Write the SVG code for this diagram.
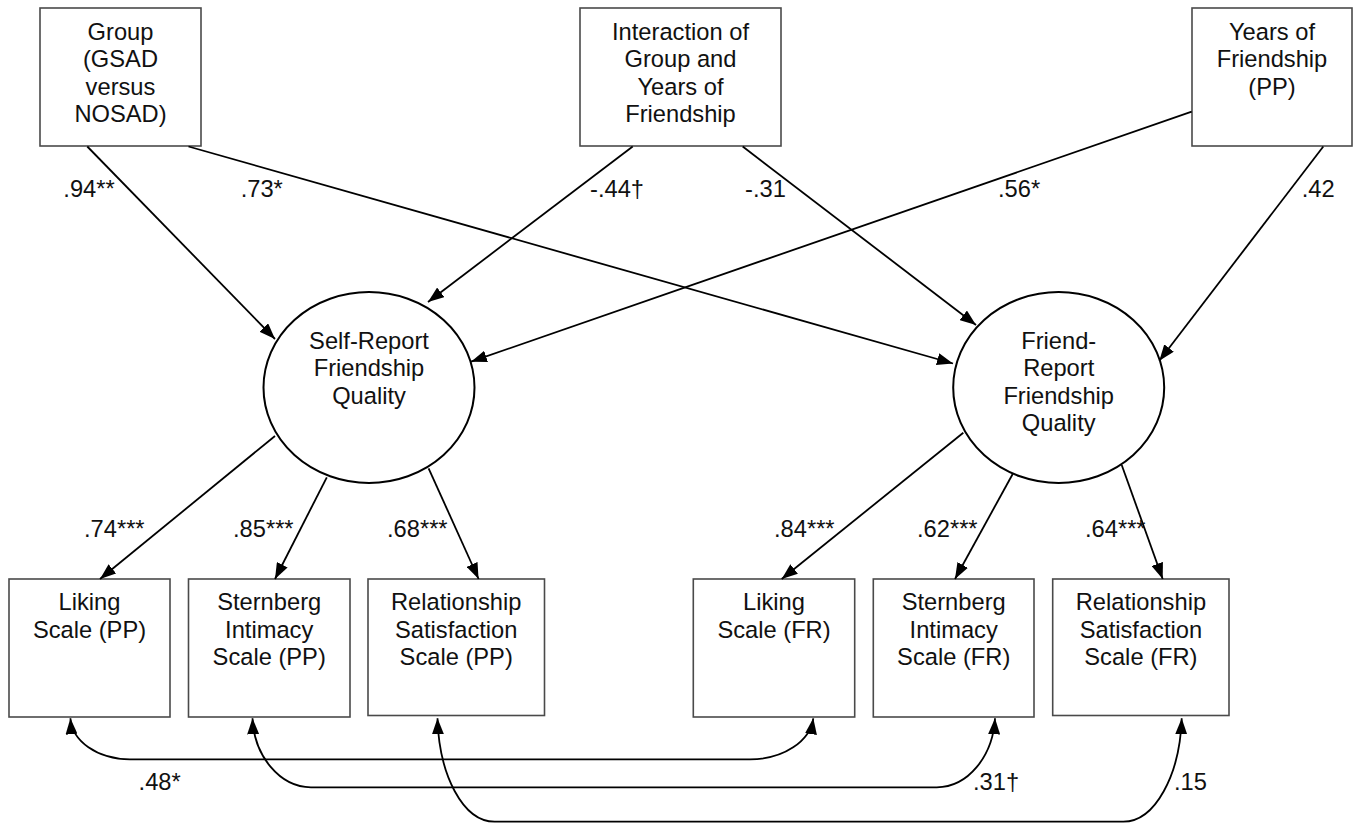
<svg xmlns="http://www.w3.org/2000/svg" width="1360" height="825" viewBox="0 0 1360 825">
<style>
text{font-family:"Liberation Sans",Arial,sans-serif;font-size:23.7px;fill:#111}
.c{text-anchor:middle}
.box{fill:#fff;stroke:#4a4a4a;stroke-width:1.6}
.ell{fill:#fff;stroke:#000;stroke-width:2}
.ln{fill:none;stroke:#000;stroke-width:1.8}
.one{marker-end:url(#ah)}
.two{marker-start:url(#ah);marker-end:url(#ah)}
</style>
<defs>
<marker id="ah" viewBox="0 0 16 12" refX="16" refY="6" markerWidth="16" markerHeight="12" markerUnits="userSpaceOnUse" orient="auto-start-reverse">
<path d="M0,0 L16,6 L0,12 z" fill="#000"/>
</marker>
</defs>

<g id="group">
<rect class="box" x="40" y="8" width="161" height="138"/>
<text class="c" x="120.5" y="39.5">Group</text>
<text class="c" x="120.5" y="67">(GSAD</text>
<text class="c" x="120.5" y="94.5">versus</text>
<text class="c" x="120.5" y="122">NOSAD)</text>
</g>
<g id="interaction">
<rect class="box" x="580" y="8" width="201" height="138"/>
<text class="c" x="680.5" y="39.5">Interaction of</text>
<text class="c" x="680.5" y="67">Group and</text>
<text class="c" x="680.5" y="94.5">Years of</text>
<text class="c" x="680.5" y="122">Friendship</text>
</g>
<g id="years">
<rect class="box" x="1192" y="8" width="160" height="138"/>
<text class="c" x="1272" y="39.5">Years of</text>
<text class="c" x="1272" y="67">Friendship</text>
<text class="c" x="1272" y="94.5">(PP)</text>
</g>
<g id="self">
<ellipse class="ell" cx="369" cy="387.5" rx="105.5" ry="95.5"/>
<text class="c" x="369" y="348.5">Self-Report</text>
<text class="c" x="369" y="376">Friendship</text>
<text class="c" x="369" y="403.5">Quality</text>
</g>
<g id="friend">
<ellipse class="ell" cx="1058.7" cy="387.5" rx="105.5" ry="95.5"/>
<text class="c" x="1058.7" y="348.5">Friend-</text>
<text class="c" x="1058.7" y="376">Report</text>
<text class="c" x="1058.7" y="403.5">Friendship</text>
<text class="c" x="1058.7" y="431">Quality</text>
</g>
<g id="liking_pp">
<rect class="box" x="9" y="579" width="161" height="138"/>
<text class="c" x="89.5" y="610">Liking</text>
<text class="c" x="89.5" y="637.5">Scale (PP)</text>
</g>
<g id="sternberg_pp">
<rect class="box" x="188.5" y="579" width="161.5" height="138"/>
<text class="c" x="269.2" y="610">Sternberg</text>
<text class="c" x="269.2" y="637.5">Intimacy</text>
<text class="c" x="269.2" y="665">Scale (PP)</text>
</g>
<g id="relationship_pp">
<rect class="box" x="368" y="579" width="176.5" height="136.5"/>
<text class="c" x="456.2" y="610">Relationship</text>
<text class="c" x="456.2" y="637.5">Satisfaction</text>
<text class="c" x="456.2" y="665">Scale (PP)</text>
</g>
<g id="liking_fr">
<rect class="box" x="693.3" y="579" width="161.4" height="138"/>
<text class="c" x="774" y="610">Liking</text>
<text class="c" x="774" y="637.5">Scale (FR)</text>
</g>
<g id="sternberg_fr">
<rect class="box" x="873.3" y="579" width="160.7" height="138"/>
<text class="c" x="953.7" y="610">Sternberg</text>
<text class="c" x="953.7" y="637.5">Intimacy</text>
<text class="c" x="953.7" y="665">Scale (FR)</text>
</g>
<g id="relationship_fr">
<rect class="box" x="1052.7" y="579" width="176.3" height="136.5"/>
<text class="c" x="1140.9" y="610">Relationship</text>
<text class="c" x="1140.9" y="637.5">Satisfaction</text>
<text class="c" x="1140.9" y="665">Scale (FR)</text>
</g>

<g id="connectors">
<line class="ln one" x1="87.3" y1="146.5" x2="275" y2="339"/>
<line class="ln one" x1="188.5" y1="146.5" x2="953" y2="363.5"/>
<line class="ln one" x1="632.7" y1="146.5" x2="428" y2="302"/>
<line class="ln one" x1="742.7" y1="146.5" x2="976" y2="325"/>
<line class="ln one" x1="1191.7" y1="111.7" x2="471" y2="361.7"/>
<line class="ln one" x1="1323.3" y1="146.5" x2="1159.3" y2="360.7"/>
<line class="ln one" x1="275" y1="436" x2="100" y2="579"/>
<line class="ln one" x1="326.8" y1="477.3" x2="275" y2="579"/>
<line class="ln one" x1="428.6" y1="468.3" x2="478.6" y2="579"/>
<line class="ln one" x1="963.3" y1="432.7" x2="781.7" y2="579"/>
<line class="ln one" x1="1012.7" y1="474" x2="955" y2="579"/>
<line class="ln one" x1="1121.7" y1="465" x2="1162.7" y2="579"/>
<path class="ln two" d="M70.4,718.3 C72,741 97,759.3 130,759.3 L750,759.3 C784,759.3 810,741 813.3,718.3"/>
<path class="ln two" d="M252.5,718.3 C254,756 280,787.3 311,787.3 L936.7,787.3 C968,787.3 993,756 995,718.3"/>
<path class="ln two" d="M437.5,718.3 C439,775 463,821.7 494.6,821.7 L1123.3,821.7 C1155,821.7 1180,775 1181.7,718.3"/>
</g>

<g id="labels">
<text x="63.3" y="197">.94**</text>
<text x="240.7" y="197">.73*</text>
<text x="590" y="197">-.44†</text>
<text x="745" y="197">-.31</text>
<text x="998" y="197">.56*</text>
<text x="1301.7" y="197">.42</text>
<text x="84" y="537">.74***</text>
<text x="233" y="537">.85***</text>
<text x="387" y="537">.68***</text>
<text x="774" y="537">.84***</text>
<text x="917" y="537">.62***</text>
<text x="1085" y="537">.64***</text>
<text x="138.6" y="790">.48*</text>
<text x="973" y="789.5">.31†</text>
<text x="1174" y="789.5">.15</text>
</g>
</svg>
